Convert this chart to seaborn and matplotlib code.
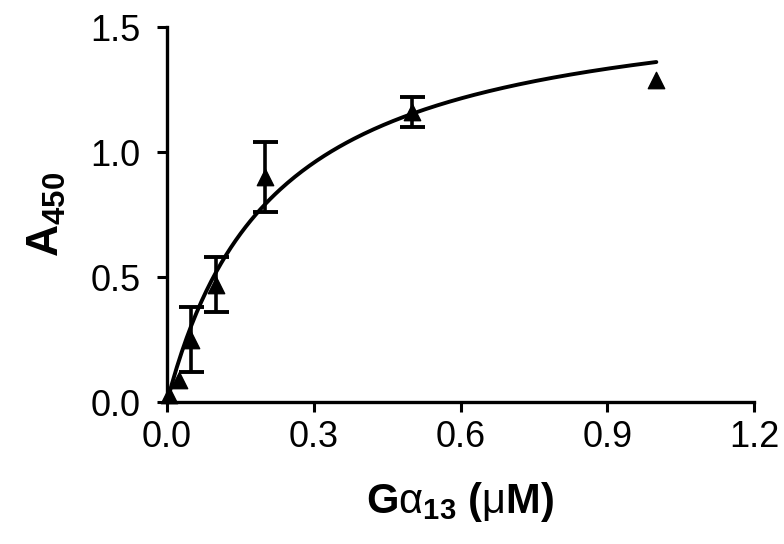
import matplotlib
matplotlib.use('Agg')
import matplotlib.pyplot as plt
import numpy as np
import pandas as pd
import seaborn as sns

# measured points (G alpha 13 in uM, A450, SEM)
conc = [0.005, 0.025, 0.05, 0.1, 0.2, 0.5, 1.0]
a450 = [0.03, 0.09, 0.25, 0.47, 0.90, 1.16, 1.29]
sem = [0.0, 0.0, 0.13, 0.11, 0.14, 0.06, 0.0]

# one-site binding fit shown as the curve
bmax = 1.66
kd = 0.22
fit_range = [0.0, 1.0]

xticks = [0.0, 0.3, 0.6, 0.9, 1.2]
yticks = [0.0, 0.5, 1.0, 1.5]

sns.set_theme(style='ticks')
plt.rcParams['font.family'] = ['Liberation Sans', 'DejaVu Sans']
plt.rcParams['mathtext.fontset'] = 'custom'
plt.rcParams['mathtext.rm'] = 'Liberation Sans'
plt.rcParams['mathtext.bf'] = 'Liberation Sans:bold'
plt.rcParams['mathtext.it'] = 'Liberation Sans:italic'

fig = plt.figure(figsize=(7.84, 5.44), dpi=100)
ax = fig.add_axes([0.213, 0.261, 0.749, 0.689])

xs = np.linspace(fit_range[0], fit_range[1], 200)
curve = pd.DataFrame({'x': xs, 'y': bmax * xs / (kd + xs)})
sns.lineplot(data=curve, x='x', y='y', color='black', linewidth=2.8, ax=ax)

df = pd.DataFrame({'conc': conc, 'a450': a450, 'sem': sem})
bars = df[df['sem'] > 0]
ax.errorbar(bars['conc'], bars['a450'], yerr=bars['sem'], fmt='none',
            ecolor='black', elinewidth=2.6, capsize=9, capthick=2.8,
            clip_on=False)
sns.scatterplot(data=df, x='conc', y='a450', marker='^', s=140,
                color='black', edgecolor='black', ax=ax, clip_on=False,
                zorder=5)

ax.set_xlim(0, 1.2)
ax.set_ylim(0, 1.5)
ax.set_xticks(xticks)
ax.set_yticks(yticks)
ax.set_xticklabels([f'{t:.1f}' for t in xticks])
ax.set_yticklabels([f'{t:.1f}' for t in yticks])
ax.tick_params(axis='both', labelsize=26, width=2.2, length=7,
               direction='out', color='black', labelcolor='black')
ax.tick_params(axis='x', pad=6)
ax.tick_params(axis='y', pad=12)

for side in ['top', 'right']:
    ax.spines[side].set_visible(False)
for side in ['left', 'bottom']:
    ax.spines[side].set_linewidth(2.4)
    ax.spines[side].set_color('black')

ax.set_xlabel(r'$\mathbf{G}\mathrm{\alpha}_{\mathbf{13}}$ $\mathbf{(}\mathrm{\mu}\mathbf{M)}$',
              fontsize=30, labelpad=18, color='black')
ax.set_ylabel(r'$\mathbf{A_{450}}$', fontsize=32, labelpad=16, color='black')
ax.grid(False)

fig.savefig('out.png', dpi=100)
